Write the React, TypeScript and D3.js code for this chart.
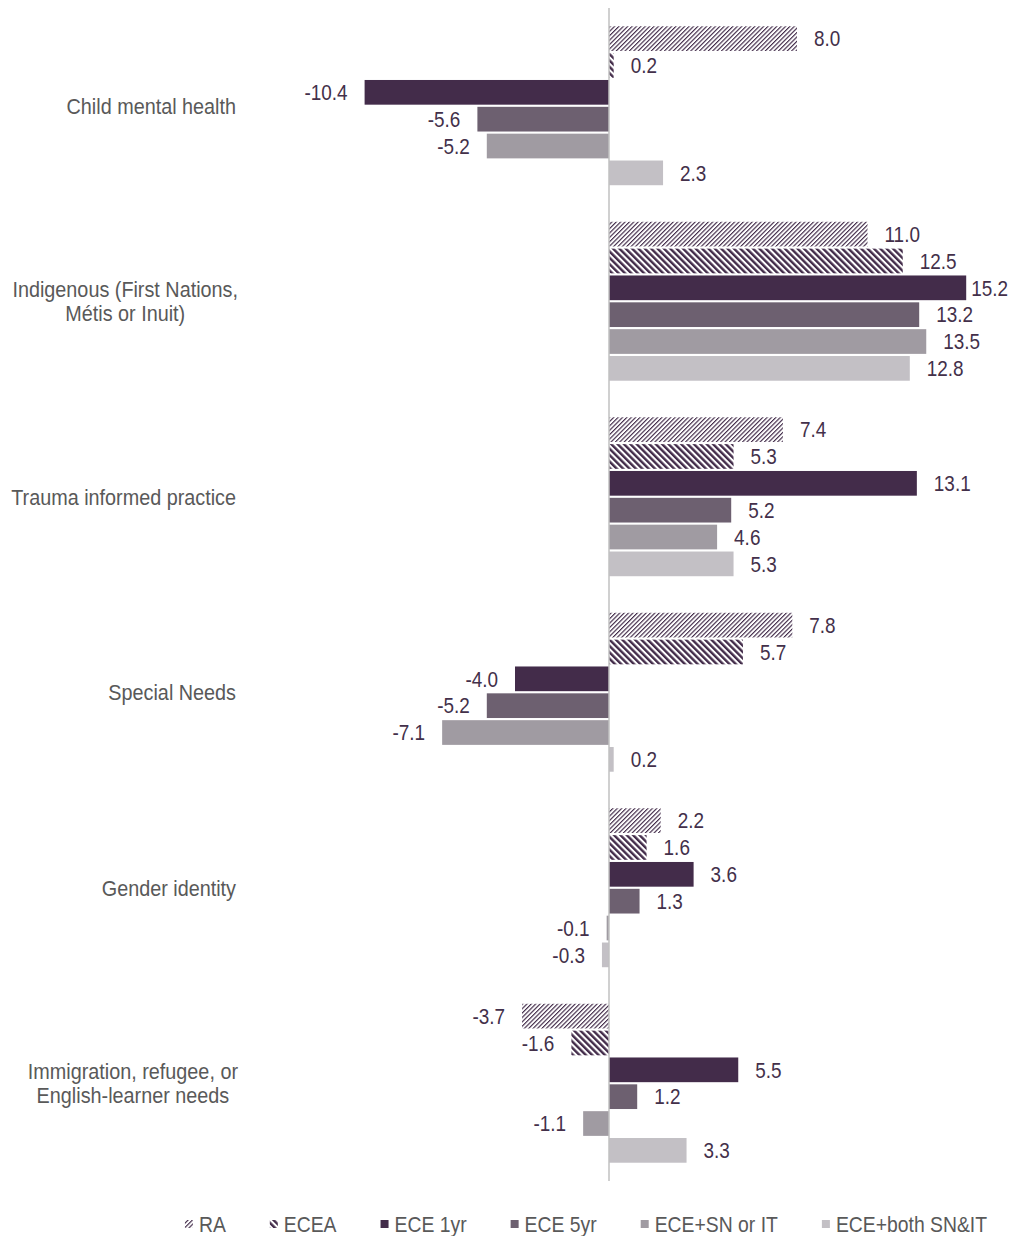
import React from "react";
import * as d3 from "d3";

const categories = [
  ["Child mental health"],
  ["Indigenous (First Nations,", "Métis or Inuit)"],
  ["Trauma informed practice"],
  ["Special Needs"],
  ["Gender identity"],
  ["Immigration, refugee, or", "English-learner needs"],
];
const seriesNames = ["RA", "ECEA", "ECE 1yr", "ECE 5yr", "ECE+SN or IT", "ECE+both SN&IT"];
const RA = [8.0, 11.0, 7.4, 7.8, 2.2, -3.7];
const ECEA = [0.2, 12.5, 5.3, 5.7, 1.6, -1.6];
const ECE1yr = [-10.4, 15.2, 13.1, -4.0, 3.6, 5.5];
const ECE5yr = [-5.6, 13.2, 5.2, -5.2, 1.3, 1.2];
const ECESN = [-5.2, 13.5, 4.6, -7.1, -0.1, -1.1];
const ECEboth = [2.3, 12.8, 5.3, 0.2, -0.3, 3.3];
const seriesValues = [RA, ECEA, ECE1yr, ECE5yr, ECESN, ECEboth];
const fills = ["url(#patRA)", "url(#patECEA)", "#432c4a", "#6d6070", "#a09ba2", "#c3c0c5"];

const W = 1026;
const H = 1236;
const FONT = "'Liberation Sans', Arial, sans-serif";
const LABEL_COLOR = "#43304a";
const CAT_COLOR = "#595959";
const SX = 0.88;

function measure(text: string, size: number) {
  if (typeof document === "undefined") return text.length * size * 0.5 * SX;
  const c = document.createElement("canvas");
  const ctx = c.getContext("2d")!;
  ctx.font = `${size}px ${FONT}`;
  return ctx.measureText(text).width * SX;
}

function T(props: { x: number; y: number; size: number; fill: string; anchor?: string; children: React.ReactNode }) {
  return (
    <text
      transform={`translate(${props.x},${props.y}) scale(${SX},1)`}
      dy="0.36em"
      textAnchor={props.anchor || "start"}
      fontSize={props.size}
      fill={props.fill}
    >
      {props.children}
    </text>
  );
}

export default function App() {
  const zeroX = 609;
  const unit = 23.5;
  const x = d3.scaleLinear().domain([-16, 18]).range([zeroX - 16 * unit, zeroX + 18 * unit]);
  const plotTop = 8;
  const plotBottom = 1181;
  const yGroup = d3
    .scaleBand<number>()
    .domain(d3.range(categories.length))
    .range([plotTop, plotBottom])
    .paddingInner(0.176)
    .paddingOuter(0.088);
  const yInner = d3
    .scaleBand<number>()
    .domain(d3.range(seriesNames.length))
    .range([0, yGroup.bandwidth()])
    .paddingInner(0.08)
    .paddingOuter(0.04);

  const valFont = 21.5;
  const catFont = 22.5;
  const legFont = 22;

  const markerSize = 8;
  const markerGap = 6;
  const itemGap = 44;
  const itemWidths = seriesNames.map((n) => markerSize + markerGap + measure(n, legFont));
  const totalLegend = d3.sum(itemWidths) + itemGap * (seriesNames.length - 1);
  const legendStart = 586 - totalLegend / 2;
  const legendY = 1224;
  let acc = legendStart;
  const legendX = itemWidths.map((w) => {
    const v = acc;
    acc += w + itemGap;
    return v;
  });

  const catRight = 236;

  return (
    <svg width={W} height={H} style={{ display: "block", position: "absolute", left: 0, top: 0 }} fontFamily={FONT}>
      <defs>
        <pattern id="patRA" patternUnits="userSpaceOnUse" width={3.1} height={10} patternTransform="rotate(45)">
          <rect width={3.1} height={10} fill="#fff" />
          <rect width={1.15} height={10} fill="#432c4a" />
        </pattern>
        <pattern id="patECEA" patternUnits="userSpaceOnUse" width={4.5} height={10} patternTransform="rotate(-45)">
          <rect width={4.5} height={10} fill="#fff" />
          <rect width={2.4} height={10} fill="#432c4a" />
        </pattern>
      </defs>
      <rect width={W} height={H} fill="#fff" />
      {categories.map((lines, gi) => {
        const cy = (yGroup(gi) as number) + yGroup.bandwidth() / 2;
        const lh = 24;
        if (lines.length === 1) {
          return (
            <T key={gi} x={catRight} y={cy} anchor="end" size={catFont} fill={CAT_COLOR}>
              {lines[0]}
            </T>
          );
        }
        const maxW = d3.max(lines, (l) => measure(l, catFont)) as number;
        const cx = catRight + 2 - maxW / 2;
        return (
          <g key={gi}>
            {lines.map((l, li) => (
              <T key={li} x={cx} y={cy + (li - (lines.length - 1) / 2) * lh} anchor="middle" size={catFont} fill={CAT_COLOR}>
                {l}
              </T>
            ))}
          </g>
        );
      })}
      {seriesValues.map((vals, si) =>
        vals.map((v, gi) => {
          const y0 = (yGroup(gi) as number) + (yInner(si) as number);
          const h = yInner.bandwidth();
          const x0 = Math.min(x(0), x(v));
          const w = Math.abs(x(v) - x(0));
          return <rect key={`b${si}-${gi}`} x={x0} y={y0} width={w} height={h} fill={fills[si]} />;
        })
      )}
      <line x1={zeroX} x2={zeroX} y1={plotTop} y2={plotBottom} stroke="#c0c0c0" strokeWidth={1.5} />
      {seriesValues.map((vals, si) =>
        vals.map((v, gi) => {
          const y0 = (yGroup(gi) as number) + (yInner(si) as number) + yInner.bandwidth() / 2;
          const label = v.toFixed(1);
          const pos = v >= 0;
          let lx = pos ? x(v) + 17 : x(v) - 17;
          if (pos) {
            const tw = measure(label, valFont);
            lx = Math.min(lx, 1008 - tw);
          }
          return (
            <T key={`l${si}-${gi}`} x={lx} y={y0} anchor={pos ? "start" : "end"} size={valFont} fill={LABEL_COLOR}>
              {label}
            </T>
          );
        })
      )}
      {seriesNames.map((n, si) => (
        <g key={`lg${si}`}>
          <rect x={legendX[si]} y={legendY - markerSize / 2} width={markerSize} height={markerSize} fill={fills[si]} />
          <T x={legendX[si] + markerSize + markerGap} y={legendY} size={legFont} fill={CAT_COLOR}>
            {n}
          </T>
        </g>
      ))}
    </svg>
  );
}
